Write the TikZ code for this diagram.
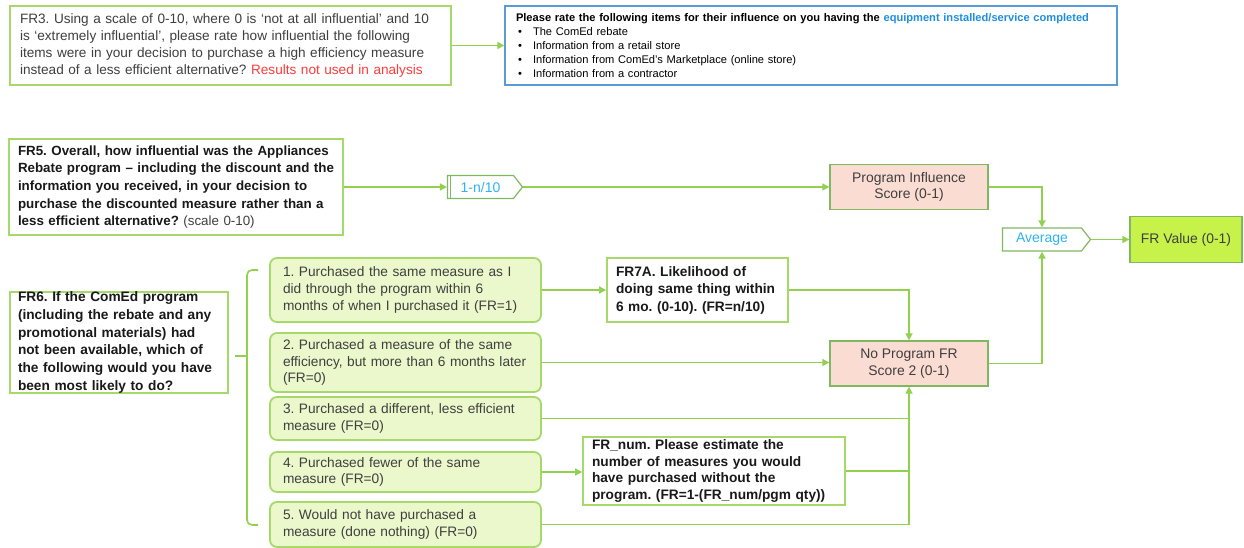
\documentclass[tikz,border=0pt]{standalone}
\usepackage{fontspec}
\setmainfont{Liberation Sans}
\usetikzlibrary{shapes.symbols,arrows.meta}
\definecolor{lg}{HTML}{92D050}
\definecolor{lgb}{HTML}{A6D96A}
\definecolor{optfill}{HTML}{EAF8CB}
\definecolor{pinkfill}{HTML}{FADCD2}
\definecolor{dgb}{HTML}{80B860}
\definecolor{frvfill}{HTML}{C6F24A}
\definecolor{bluebd}{HTML}{5B9BD5}
\definecolor{bluetxt}{HTML}{1E8FE0}
\definecolor{cyantxt}{HTML}{2EB4F2}
\definecolor{redtxt}{HTML}{FF3B3B}
\definecolor{graytxt}{HTML}{3F3F3F}
\newcommand{\oneline}[1]{\mbox{#1}}
\frenchspacing
\begin{document}
\begin{tikzpicture}[x=1pt,y=-1pt,
  conn/.style={draw=lg, line width=1.6pt},
  arr/.style={conn, -{Triangle[length=7pt,width=7pt]}},
  qbox/.style={draw=lgb, line width=1.7pt, fill=white, align=left, inner ysep=0pt, anchor=center},
  optbox/.style={draw=lgb, line width=1.8pt, fill=optfill, rounded corners=7pt, align=left,
    inner xsep=13pt, inner ysep=0pt, text width=245pt, text=graytxt,
    font=\fontsize{13.7}{16.8}\selectfont},
  scorebox/.style={draw=dgb, line width=1.3pt, fill=pinkfill, align=center, text=graytxt,
    minimum width=158pt, minimum height=45pt, inner sep=0pt,
    font=\fontsize{13.9}{16.5}\selectfont},
  sig/.style={shape=signal, signal to=east, signal pointer angle=104, draw=dgb, line width=1.2pt,
    fill=white, text=cyantxt, inner sep=0pt, font=\fontsize{14}{16}\selectfont},
  boldq/.style={qbox, text=black!90}
]
\useasboundingbox (0,0) rectangle (1244,548);

% top row
\node[qbox, text width=421pt, inner xsep=10pt, minimum height=79pt, text=graytxt,
  font=\fontsize{13.6}{17}\selectfont] (fr3) at (230.5,45.5)
  {\oneline{FR3. Using a scale of 0-10, where 0 is ‘not at all influential’ and 10}\\
   \oneline{is ‘extremely influential’, please rate how influential the following}\\
   \oneline{items were in your decision to purchase a high efficiency measure}\\
   \oneline{instead of a less efficient alternative? {\color{redtxt}Results not used in analysis}}};

\node[draw=bluebd, line width=1.4pt, fill=white, align=left, anchor=center, text width=590pt,
  inner xsep=11pt, inner ysep=0pt, minimum height=79pt,
  font=\fontsize{11.1}{13.8}\selectfont] (rate) at (811,45.5)
  {\oneline{\textbf{Please rate the following items for their influence on you having the {\color{bluetxt}equipment installed/service completed}}}\\
   \makebox[17pt][l]{\hspace{2pt}•}The ComEd rebate\\
   \makebox[17pt][l]{\hspace{2pt}•}Information from a retail store\\
   \makebox[17pt][l]{\hspace{2pt}•}Information from ComEd’s Marketplace (online store)\\
   \makebox[17pt][l]{\hspace{2pt}•}Information from a contractor};

\draw[arr] (fr3.east) -- (fr3.east -| rate.west);

% FR5 row
\node[boldq, text width=316pt, inner xsep=9pt, minimum height=96pt,
  font=\bfseries\fontsize{13.35}{17.6}\selectfont] (fr5) at (176,187)
  {\oneline{FR5. Overall, how influential was the Appliances}\\
   \oneline{Rebate program – including the discount and the}\\
   \oneline{information you received, in your decision to}\\
   \oneline{purchase the discounted measure rather than a}\\
   \oneline{less efficient alternative? {\mdseries\color{graytxt}(scale 0-10)}}};

\node[sig, minimum width=75pt, minimum height=23pt] (n10) at (480.5,187) {1-n/10};
\draw[draw=dgb, line width=1pt] ([xshift=3.5pt]n10.north west) -- ([xshift=3.5pt]n10.south west);

\node[scorebox] (pi) at (909,187) {Program Influence\\Score (0-1)};

\node[sig, minimum width=88pt, minimum height=23pt] (avg) at (1042,239.5) {Average};

\node[draw=dgb, line width=1.3pt, fill=frvfill, minimum width=112pt, minimum height=46pt,
  inner sep=0pt, text=graytxt, font=\fontsize{13.9}{17}\selectfont] (frv) at (1186,239.5) {FR Value (0-1)};

\draw[arr] (fr5.east) -- (fr5.east -| n10.west);
\draw[arr] (n10.east) -- (n10.east -| pi.west);
\draw[arr] (pi.east) -| (avg.north);
\draw[arr] (avg.east) -- (avg.east -| frv.west);

% FR6 block
\node[boldq, text width=202pt, inner xsep=8pt, inner ysep=-2pt, minimum height=101pt,
  font=\bfseries\fontsize{13.7}{17.7}\selectfont] (fr6) at (119,342.5)
  {\oneline{FR6. If the ComEd program}\\
   \oneline{(including the rebate and any}\\
   \oneline{promotional materials) had}\\
   \oneline{not been available, which of}\\
   \oneline{the following would you have}\\
   \oneline{been most likely to do?}};

\coordinate (bm) at (235,356);
\coordinate (bj) at (247,356);
\coordinate (bt) at (258,270);
\coordinate (bb) at (258,525);
\draw[conn, rounded corners=5pt] (bt) -- (247,270) -- (247,525) -- (bb);
\draw[conn] (bm) -- (bj);

\node[optbox, minimum height=64pt] (o1) at (405.5,290)
  {\oneline{1. Purchased the same measure as I}\\ \oneline{did through the program within 6}\\ \oneline{months of when I purchased it (FR=1)}};
\node[optbox, minimum height=59pt] (o2) at (405.5,362.5)
  {\oneline{2. Purchased a measure of the same}\\ \oneline{efficiency, but more than 6 months later}\\ (FR=0)};
\node[optbox, minimum height=43pt] (o3) at (405.5,418.5)
  {\oneline{3. Purchased a different, less efficient}\\ \oneline{measure (FR=0)}};
\node[optbox, minimum height=40pt] (o4) at (405.5,472)
  {\oneline{4. Purchased fewer of the same}\\ \oneline{measure (FR=0)}};
\node[optbox, minimum height=45pt] (o5) at (405.5,524.5)
  {\oneline{5. Would not have purchased a}\\ \oneline{measure (done nothing) (FR=0)}};

\node[boldq, text width=163pt, inner xsep=9pt, minimum height=64pt,
  font=\bfseries\fontsize{13.7}{17.5}\selectfont] (fr7a) at (697.5,290)
  {\oneline{FR7A. Likelihood of}\\ \oneline{doing same thing within}\\ \oneline{6 mo. (0-10). (FR=n/10)}};

\node[boldq, text width=244pt, inner xsep=9pt, minimum height=68pt,
  font=\bfseries\fontsize{13.7}{16.8}\selectfont] (frnum) at (714,471)
  {\oneline{FR\_num. Please estimate the}\\ \oneline{number of measures you would}\\ \oneline{have purchased without the}\\ \oneline{program. (FR=1-(FR\_num/pgm qty))}};

\node[scorebox] (np) at (909,363.5) {No Program FR\\Score 2 (0-1)};

\coordinate (j3) at (np.south |- o3.east);
\coordinate (j4) at (np.south |- frnum.east);

\draw[arr] (o1.east) -- (o1.east -| fr7a.west);
\draw[arr] (fr7a.east) -| (np.north);
\draw[arr] (o2.east) -- (o2.east -| np.west);
\draw[conn] (o3.east) -- (j3);
\draw[arr] (o4.east) -- (o4.east -| frnum.west);
\draw[conn] (frnum.east) -- (j4);
\draw[arr] (o5.east) -| (np.south);
\draw[arr] (np.east) -| (avg.south);
\end{tikzpicture}
\end{document}
